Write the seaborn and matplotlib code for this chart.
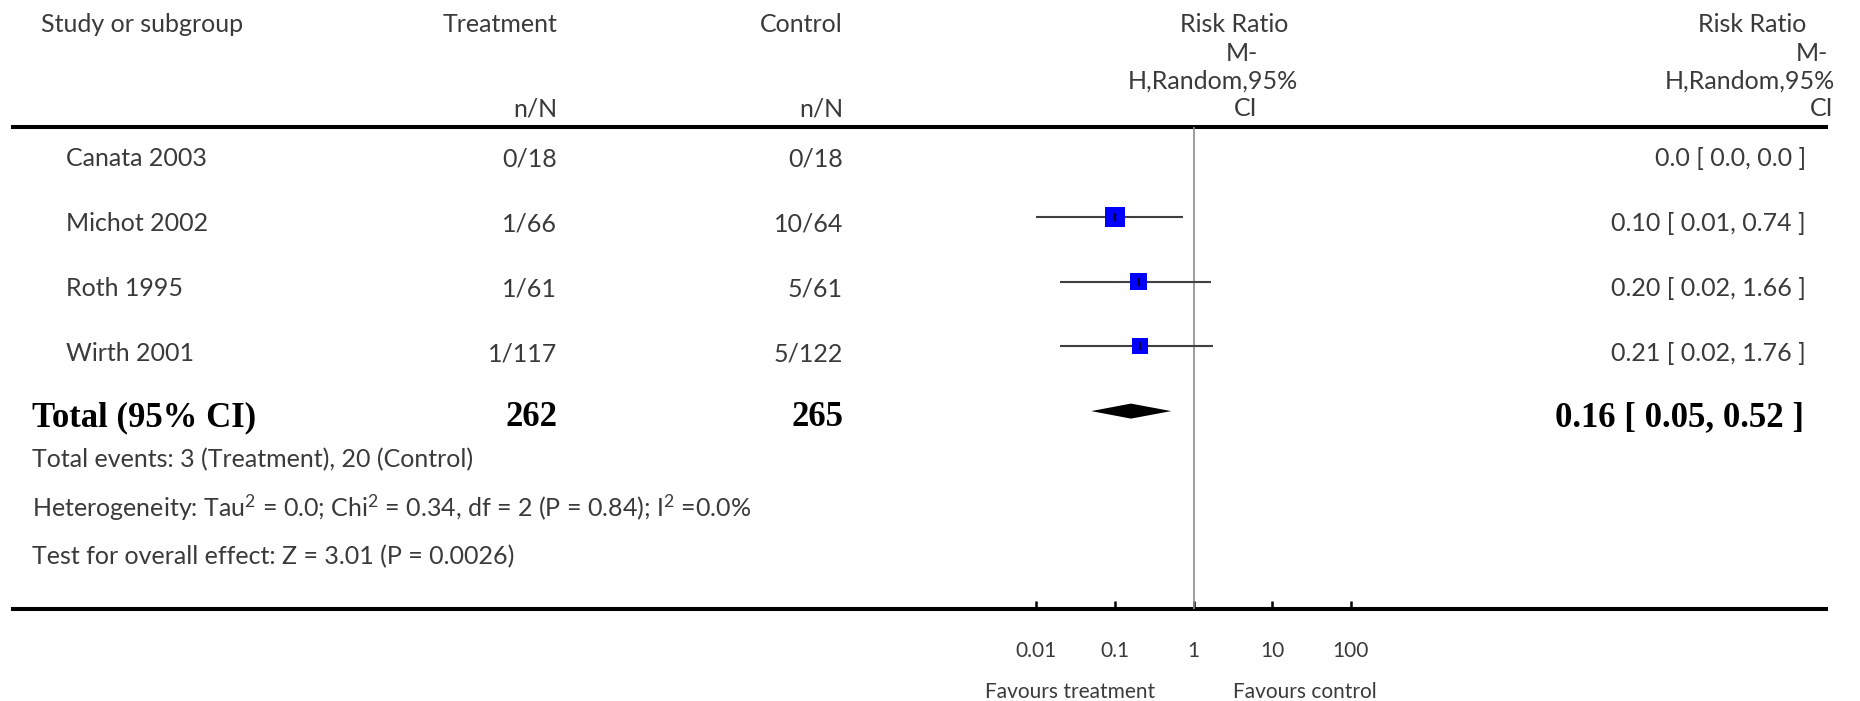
import numpy as np
import pandas as pd
import seaborn as sns
import matplotlib.pyplot as plt

# --- data ------------------------------------------------------------------
studies = ["Canata 2003", "Michot 2002", "Roth 1995", "Wirth 2001"]
treat_events = [0, 1, 1, 1]
treat_total = [18, 66, 61, 117]
ctrl_events = [0, 10, 5, 5]
ctrl_total = [18, 64, 61, 122]
rr = [0.0, 0.10, 0.20, 0.21]
rr_low = [0.0, 0.01, 0.02, 0.02]
rr_high = [0.0, 0.74, 1.66, 1.76]

total_rr = 0.16
total_low = 0.05
total_high = 0.52

tau2 = 0.0
chi2 = 0.34
het_df = 2
het_p = 0.84
i2 = 0.0
z_value = 3.01
z_p = 0.0026

tick_values = [0.01, 0.1, 1, 10, 100]
tick_labels = ["0.01", "0.1", "1", "10", "100"]

# --- styling ----------------------------------------------------------------
sns.set_theme(style="white")
plt.rcParams["font.family"] = ["Lato", "DejaVu Sans"]
plt.rcParams["mathtext.fontset"] = "custom"
plt.rcParams["mathtext.rm"] = "Lato"
plt.rcParams["mathtext.default"] = "rm"

TXT = "#3a3a3a"
FS = 18
SMALL = 15
SERIF = ["Liberation Serif", "DejaVu Serif"]

W, H = 1860, 701
fig = plt.figure(figsize=(W / 100, H / 100), dpi=100)

# overlay axes in pixel coordinates for the table part
ax0 = fig.add_axes([0, 0, 1, 1])
ax0.set_xlim(0, W)
ax0.set_ylim(H, 0)
ax0.axis("off")

def put(x, y, s, ha="left", **kw):
    kw.setdefault("color", TXT)
    kw.setdefault("fontsize", FS)
    ax0.text(x, y, s, ha=ha, va="baseline", **kw)

# header
put(41, 31.7, "Study or subgroup")
put(557, 31.7, "Treatment", ha="right")
put(843, 31.7, "Control", ha="right")
put(557, 116.5, "n/N", ha="right")
put(843, 116.5, "n/N", ha="right")

hdr_lines = ["Risk Ratio", "M-", "H,Random,95%", "CI"]
hdr_base = [31.7, 61.0, 89.0, 116.5]
for s, y, xc in zip(hdr_lines, hdr_base, [1234, 1242, 1213, 1246]):
    put(xc, y, s, ha="center")
for s, y, xr in zip(hdr_lines, hdr_base, [1806, 1828, 1835, 1833]):
    put(xr, y, s, ha="right")

# thick rules
ax0.plot([11, 1828], [126.7, 126.7], color="black", lw=2.9, solid_capstyle="butt")
ax0.plot([11, 1828], [608.7, 608.7], color="black", lw=2.9, solid_capstyle="butt")

def fmt(v):
    return "0.0" if v == 0 else f"{v:.2f}"

row0, step = 166.3, 64.9
for i, name in enumerate(studies):
    yb = row0 + step * i
    put(66, yb, name)
    put(557, yb, f"{treat_events[i]}/{treat_total[i]}", ha="right")
    put(843, yb, f"{ctrl_events[i]}/{ctrl_total[i]}", ha="right")
    put(1806, yb, f"{fmt(rr[i])} [ {fmt(rr_low[i])}, {fmt(rr_high[i])} ]", ha="right")

yb = row0 + step * 4
bold = dict(family=SERIF, fontweight="bold", fontsize=25, color="black")
put(32, yb, "Total (95% CI)", **bold)
put(557, yb, str(sum(treat_total)), ha="right", **bold)
put(843, yb, str(sum(ctrl_total)), ha="right", **bold)
put(1804, yb, f"{total_rr:.2f} [ {total_low:.2f}, {total_high:.2f} ]", ha="right", **bold)

put(32, 467, f"Total events: {sum(treat_events)} (Treatment), {sum(ctrl_events)} (Control)")
put(32, 516.5, f"Heterogeneity: Tau$^{{2}}$ = {tau2:.1f}; Chi$^{{2}}$ = {chi2:.2f}, "
               f"df = {het_df} (P = {het_p:.2f}); I$^{{2}}$ ={i2:.1f}%")
put(32, 564, f"Test for overall effect: Z = {z_value:.2f} (P = {z_p:.4f})")

put(1070, 698, "Favours treatment", ha="center", fontsize=SMALL)
put(1305, 698, "Favours control", ha="center", fontsize=SMALL)

# --- forest axes ------------------------------------------------------------
x_left, x_right = 1036.3, 1350.7
y_top, y_bot = 126.7, 608.7
ax = fig.add_axes([x_left / W, 1 - y_bot / H, (x_right - x_left) / W, (y_bot - y_top) / H])
ax.patch.set_alpha(0)
ax.set_xscale("log")
ax.set_xlim(0.01, 100)
mark0, mstep = 151.9, 64.8
ax.set_ylim((y_bot - mark0) / mstep, (y_top - mark0) / mstep)

df = pd.DataFrame({
    "row": np.arange(len(studies)),
    "rr": rr, "low": rr_low, "high": rr_high,
    "a": treat_events, "n1": treat_total, "c": ctrl_events, "n2": ctrl_total,
})
df = df[df["rr"] > 0].copy()
df["weight"] = 1 / (1 / df["a"] - 1 / df["n1"] + 1 / df["c"] - 1 / df["n2"])

ax.axvline(1, color="#8c8c8c", lw=1.2, zorder=1)
ax.hlines(df["row"], df["low"], df["high"], color="#404040", lw=1.5, zorder=2)
sns.scatterplot(data=df, x="rr", y="row", size="weight", sizes=(132, 207),
                marker="s", color="#0000ff", edgecolor="none", legend=False,
                ax=ax, zorder=3)
ax.scatter(df["rr"], df["row"], marker="|", s=30, color="black", lw=1.2, zorder=4)

tr = len(studies)
dh = 0.116
ax.fill([total_low, total_rr, total_high, total_rr], [tr, tr - dh, tr, tr + dh],
        color="black", lw=0, zorder=3)

ax.set_xticks(tick_values)
ax.set_xticklabels(tick_labels, fontsize=SMALL, color=TXT)
ax.minorticks_off()
ax.tick_params(axis="x", direction="in", length=5.8, width=1.8, color="black",
               pad=23, bottom=True)
ax.set_yticks([])
ax.set_xlabel("")
ax.set_ylabel("")
for sp in ax.spines.values():
    sp.set_visible(False)

fig.savefig("out.png", dpi=100)
